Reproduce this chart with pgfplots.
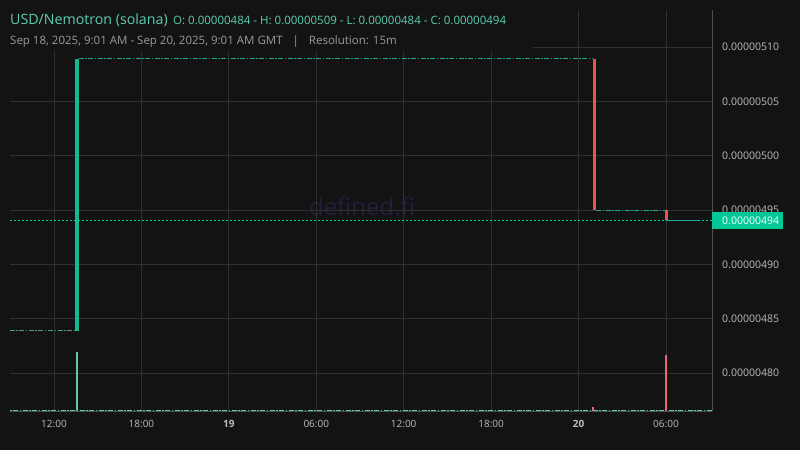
\documentclass[border=0pt]{standalone}
\usepackage{pgfplots}
\pgfplotsset{compat=1.18}
\usepackage{fontspec}
\setmainfont{Open Sans}
\definecolor{bg}{HTML}{131313}
\definecolor{gridc}{HTML}{303030}
\definecolor{axisc}{HTML}{505050}
\definecolor{titlec}{HTML}{5CCFB0}
\definecolor{subc}{HTML}{9A9A9A}
\definecolor{lblc}{HTML}{BDBDBD}
\definecolor{upc}{HTML}{16B88D}
\definecolor{downc}{HTML}{F05050}
\definecolor{vupc}{HTML}{5CC9A7}
\definecolor{vdownc}{HTML}{E8677A}
\definecolor{flatc}{HTML}{1FA896}
\definecolor{flat0c}{HTML}{4E9A8C}
\definecolor{curc}{HTML}{00C896}
\definecolor{wmc}{HTML}{20203E}
\begin{document}
\begin{tikzpicture}[x=1pt,y=1pt]
\fill[bg] (0,0) rectangle (800,450);
\useasboundingbox (0,0) rectangle (800,450);
\node[text=wmc, font=\fontsize{24}{28}\selectfont] at (362,244) {defined.fi};
\begin{axis}[
  at={(10pt,39pt)}, anchor=south west,
  width=702pt, height=401pt, scale only axis,
  xmin=8.98, xmax=57.16, ymin=476.5, ymax=513.4,
  axis x line*=bottom, axis y line*=right,
  axis line style={color=axisc, line width=0.8pt},
  grid=major, grid style={color=gridc, line width=0.8pt},
  major tick length=0pt,
  xtick={12,18,24,30,36,42,48,54},
  xticklabels={12:00,18:00,\textbf{19},06:00,12:00,18:00,\textbf{20},06:00},
  xticklabel style={text=lblc, font=\fontsize{10}{12}\selectfont, yshift=-6pt},
  ytick={480,485,490,495,500,505,510},
  yticklabels={0.00000480,0.00000485,0.00000490,0.00000495,0.00000500,0.00000505,0.00000510},
  yticklabel style={text=lblc, font=\fontsize{10.5}{12}\selectfont, anchor=west, inner sep=0pt, xshift=10pt},
  /pgf/number format/assume math mode=true,
]
% flat (no-trade) segments
\addplot[flat0c, line width=0.9pt, dash pattern=on 5pt off 1.5pt on 1.5pt off 1.5pt] coordinates {(8.98,483.9) (13.47,483.9)};
\addplot[flatc, line width=0.9pt, dash pattern=on 5pt off 1.5pt on 1.5pt off 1.5pt] coordinates {(13.69,508.9) (49.0,508.9)};
\addplot[flatc, line width=0.9pt, dash pattern=on 5pt off 1.5pt on 1.5pt off 1.5pt] coordinates {(49.22,495.0) (53.9,495.0)};
% current price line
\addplot[curc, line width=1pt, dash pattern=on 2pt off 2pt] coordinates {(8.98,494.05) (57.16,494.05)};
\addplot[flatc, line width=0.9pt] coordinates {(54.1,494.05) (56.2,494.05)};
% candles
\addplot[fill=upc, draw=none] coordinates {(13.47,483.9) (13.69,483.9) (13.69,508.9) (13.47,508.9)} --cycle;
\addplot[fill=downc, draw=none] coordinates {(49.0,508.9) (49.22,508.9) (49.22,495.0) (49.0,495.0)} --cycle;
\addplot[fill=downc, draw=none] coordinates {(53.9,495.0) (54.12,495.0) (54.12,494.05) (53.9,494.05)} --cycle;
\coordinate (pl) at (axis cs:57.16,494.05);
\end{axis}
\begin{axis}[
  at={(10pt,39pt)}, anchor=south west,
  width=702pt, height=401pt, scale only axis,
  xmin=8.98, xmax=57.16, ymin=0, ymax=401,
  hide axis,
]
\addplot[vupc, line width=0.9pt, dash pattern=on 1.5pt off 1.5pt on 5pt off 1.5pt] coordinates {(8.98,0.8) (57.16,0.8)};
\addplot[fill=vupc, draw=none] coordinates {(13.53,0) (13.63,0) (13.63,59) (13.53,59)} --cycle;
\addplot[fill=vdownc, draw=none] coordinates {(48.93,0) (49.05,0) (49.05,4) (48.93,4)} --cycle;
\addplot[fill=vdownc, draw=none] coordinates {(53.95,0) (54.07,0) (54.07,56) (53.95,56)} --cycle;
\end{axis}
\fill[bg] (0,399) rectangle (533,450);
\node[anchor=west, fill=curc, text=white, inner sep=0pt, minimum height=17pt, minimum width=71pt, text width=71pt, font=\fontsize{10.5}{12}\selectfont] at (pl) {\hspace*{10pt}0.00000494};
\node[anchor=base west, inner sep=0pt, text=titlec, font=\fontsize{14.2}{16}\selectfont] at (10,425) {USD/Nemotron (solana)};
\node[anchor=base west, inner sep=0pt, text=titlec, font=\fontsize{11.5}{13}\selectfont] at (173,425) {O: 0.00000484 - H: 0.00000509 - L: 0.00000484 - C: 0.00000494};
\node[anchor=base west, inner sep=0pt, text=subc, font=\fontsize{11.5}{13}\selectfont] at (10,405) {Sep 18, 2025, 9:01 AM - Sep 20, 2025, 9:01 AM GMT\hspace{10pt}|\hspace{10pt}Resolution: 15m};
\end{tikzpicture}
\end{document}
